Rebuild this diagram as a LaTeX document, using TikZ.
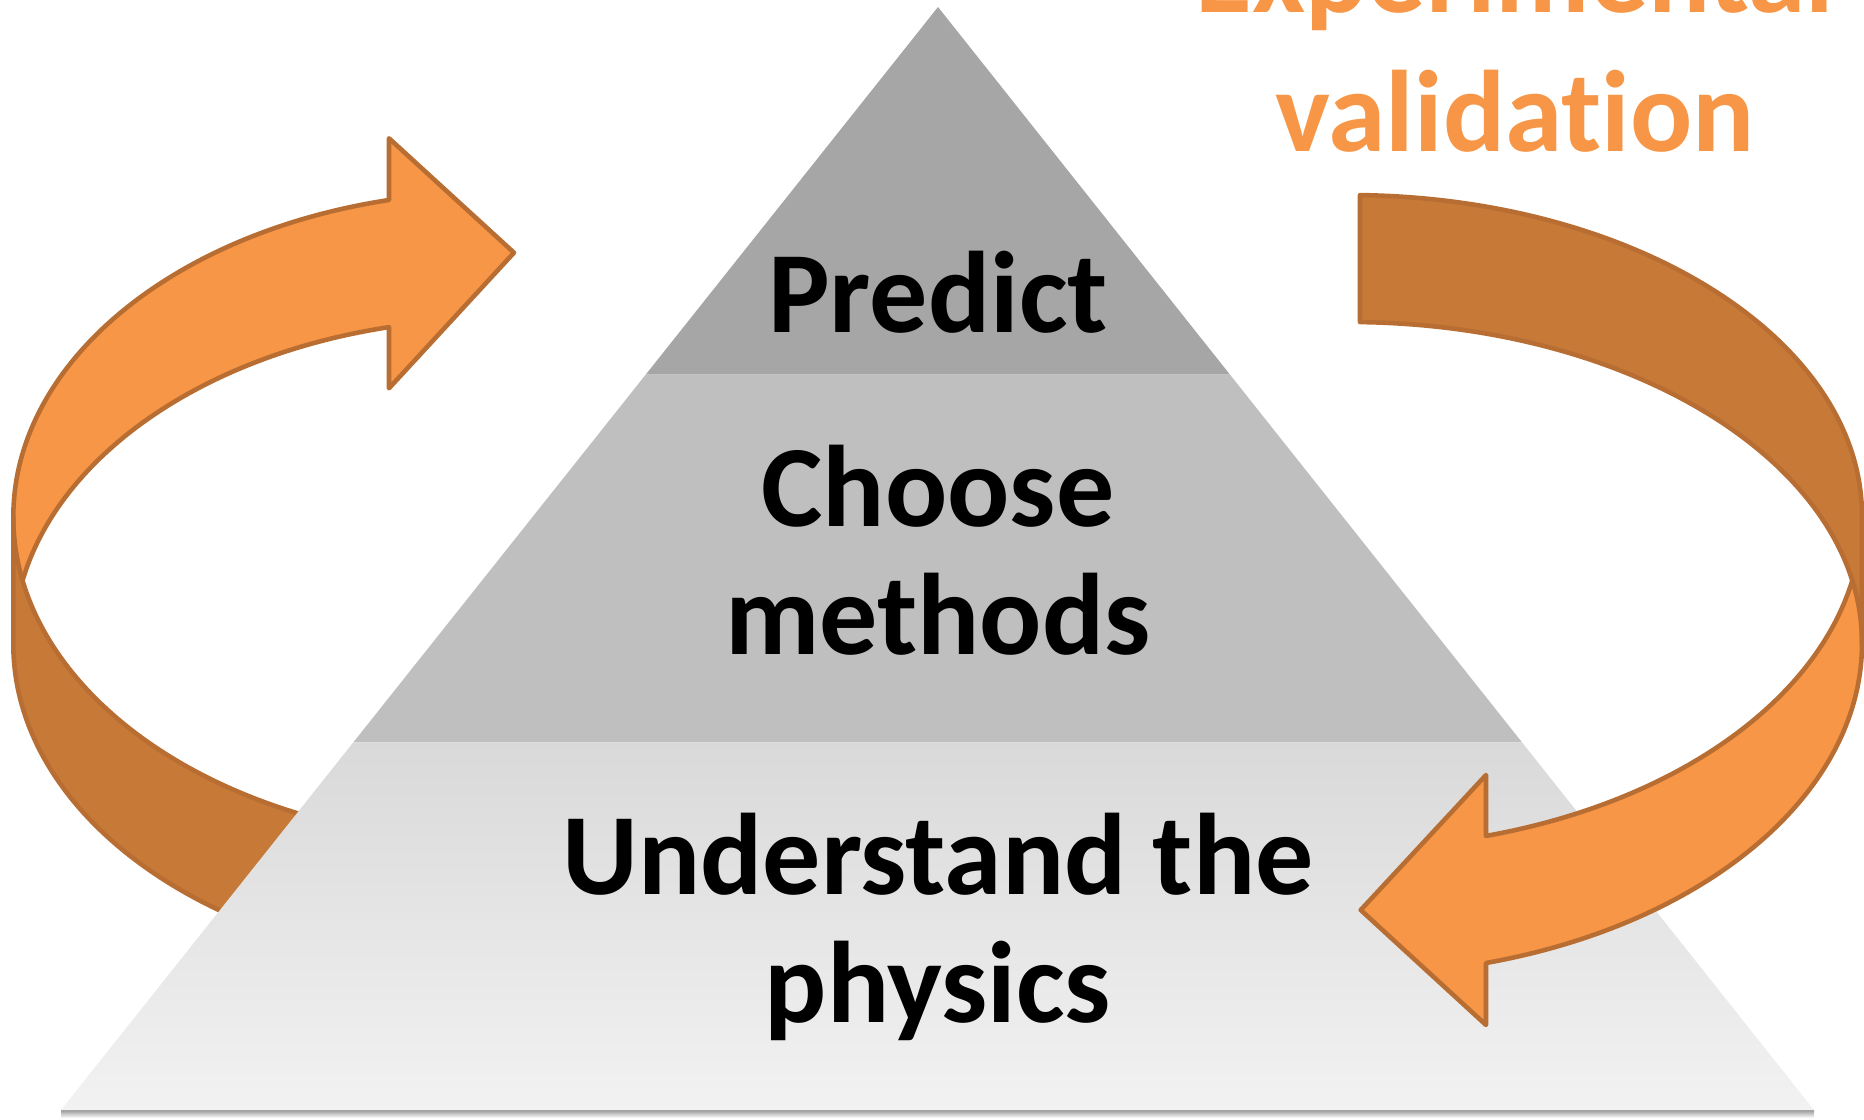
\documentclass[tikz,border=0pt]{standalone}
\usepackage{fontspec}
\setmainfont{Carlito}[Ligatures=NoCommon]
\usetikzlibrary{calc}
\definecolor{orangelight}{RGB}{247,150,70}
\definecolor{orangedark}{RGB}{199,121,55}
\definecolor{orangeline}{RGB}{184,110,50}
\definecolor{tiertop}{RGB}{166,166,166}
\definecolor{tiermid}{RGB}{191,191,191}
\definecolor{tierlowtop}{RGB}{217,217,217}
\definecolor{tierlowbot}{RGB}{242,242,242}
\tikzset{
  lightband/.style = {fill=orangelight,draw=orangeline,line width=1.3pt,line join=round},
  darkband/.style  = {fill=orangedark,draw=orangeline,line width=1.3pt,line join=round},
  tierlabel/.style = {font=\bfseries\fontsize{33pt}{36.3pt}\selectfont,
                      align=center,anchor=base,inner sep=0pt},
  looplabel/.style = {font=\bfseries\fontsize{33pt}{39.8pt}\selectfont,
                      align=center,anchor=base,inner sep=0pt,text=orangelight},
}

\begin{document}
\begin{tikzpicture}
  \clip (0,0) rectangle (18.64,11.19);
  % left loop: upper band, then the front wall over it
  \draw[lightband] (3.89,9.19) arc[start angle=102.84,end angle=180,x radius=4.83,y radius=3.25]
        -- (0.133,4.75) arc[start angle=180,end angle=102.84,x radius=4.83,y radius=3.25]
        -- (3.89,7.307) -- (5.14,8.663) -- (3.89,9.807) -- cycle;
  \draw[darkband] (0.133,6.02) arc[start angle=180,end angle=258.5,x radius=4.83,y radius=3.25]
        -- ++(0,-1.27) arc[start angle=258.5,end angle=180,x radius=4.83,y radius=3.25] -- cycle;
  % pyramid, split in thirds
  \coordinate (apex) at (9.38,11.12);
  \coordinate (bl) at (0.61,0.09);
  \coordinate (br) at (18.14,0.09);
  \shade[top color=black!40,bottom color=white] (0.61,0.09) rectangle (18.14,0.01);
  \fill[tiertop] (apex) -- ($(apex)!1/3!(bl)$) -- ($(apex)!1/3!(br)$) -- cycle;
  \fill[tiermid] ($(apex)!1/3!(bl)$) -- ($(apex)!2/3!(bl)$)
        -- ($(apex)!2/3!(br)$) -- ($(apex)!1/3!(br)$) -- cycle;
  \shade[top color=tierlowtop,bottom color=tierlowbot] ($(apex)!2/3!(bl)$) -- (bl)
        -- (br) -- ($(apex)!2/3!(br)$) -- cycle;
  % anchor=base sits on the last line
  \node[tierlabel] (predict) at (9.38,7.86) {Predict};
  \node[tierlabel] (choose) at (9.38,4.65) {Choose\\methods};
  \node[tierlabel] (physics) at (9.38,0.97) {Understand the\\physics};
  % right loop: lower band with head, back wall on top
  \draw[lightband] (18.62,6.03) arc[start angle=0,end angle=-74.51,x radius=5.13,y radius=3.32]
        -- (14.86,3.44) -- (13.607,2.09) -- (14.86,0.94) -- (14.86,1.56)
        arc[start angle=-74.51,end angle=0,x radius=5.13,y radius=3.32] -- cycle;
  \draw[darkband] (13.60,9.239) arc[start angle=88.77,end angle=0,x radius=5.13,y radius=3.21]
        -- (18.62,4.76) arc[start angle=0,end angle=88.77,x radius=5.13,y radius=3.21] -- cycle;
  \node[looplabel] (valid) at (15.15,9.67) {Experimental\\validation};
\end{tikzpicture}
\end{document}
